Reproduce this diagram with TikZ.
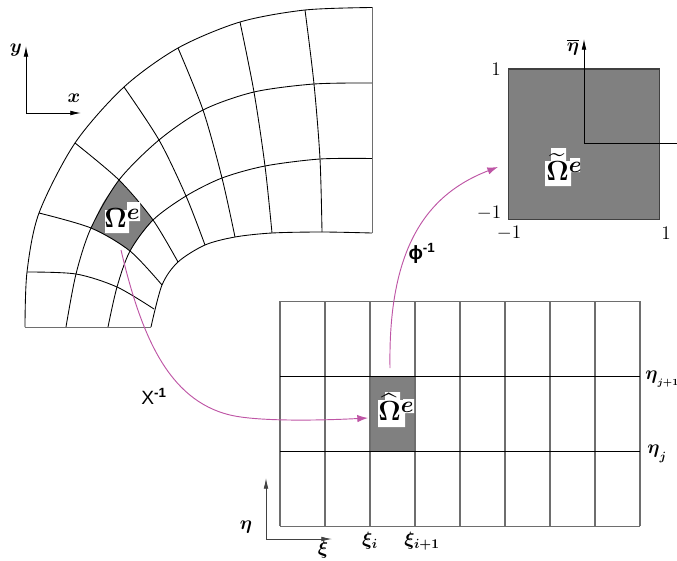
\documentclass[tikz,border=0pt]{standalone}
\usepackage{amsmath,amssymb,bm}
\usepackage{fontspec}
\setsansfont{Liberation Sans}
\usetikzlibrary{arrows.meta}
\definecolor{pinkline}{RGB}{190,85,165}
\definecolor{cellgray}{RGB}{128,128,128}
\definecolor{gridgray}{RGB}{110,110,110}
\tikzset{
 x=0.75pt,y=-0.75pt,
 mesh/.style={black,line width=0.65pt,smooth,tension=0.5},
 gridv/.style={gridgray,line width=0.95pt},
 gridh/.style={black,line width=0.6pt},
 edgeg/.style={gridgray,line width=0.75pt},
 axis/.style={black,line width=0.6pt,-{Latex[length=8pt,width=3.5pt]}},
 map/.style={pinkline,line width=0.7pt,-{Latex[length=8pt,width=5.5pt]}},
 elem/.style={inner sep=0pt,font=\huge},
 lab/.style={inner sep=0pt,font=\Large},
 sym/.style={inner sep=0pt,font=\Large},
 sfl/.style={inner sep=0pt,font=\sffamily\Large},
}
\newcommand{\elemE}{\raisebox{6pt}{\LARGE$\bm{e}$}}
\begin{document}
\begin{tikzpicture}
\useasboundingbox (0,0) rectangle (677,560);
% physical element
\fill[cellgray] plot[smooth,tension=0.5] coordinates {(119,180)(136,199)(153,220)}
  -- plot[smooth,tension=0.5] coordinates {(153,220)(140,236)(130,251)}
  -- plot[smooth,tension=0.5] coordinates {(130,251)(110,238)(91,228)}
  -- plot[smooth,tension=0.5] coordinates {(91,228)(103,203)(119,180)} -- cycle;
% boundaries and mesh lines
\draw[mesh] plot coordinates {(25,327)(27,272)(39,213)(75,143)(124,87)(178,48)(240,22)(305,10)(372,7.5)};
\draw[mesh] plot coordinates {(151,327)(162,285)(178,262)(205,245)(235,237)(272,233)(322,232)(372,233)};
\draw[mesh] plot coordinates {(66,327)(76,274)(91,228)(119,180)(159,140)(203,110)(254,92)(314,84)(372,83)};
\draw[mesh] plot coordinates {(108,327)(117,287)(130,251)(153,220)(186,196)(222,178)(265,166)(320,159)(372,158.5)};
\draw[mesh] plot coordinates {(27,272)(76,274)(117,287)(154,309)};
\draw[mesh] plot coordinates {(39,213)(91,228)(130,251)(162,285)};
\draw[mesh] plot coordinates {(75,143)(119,180)(153,220)(178,262)};
\draw[mesh] plot coordinates {(124,87)(159,140)(186,196)(205,245)};
\draw[mesh] plot coordinates {(178,48)(203,110)(222,178)(235,237)};
\draw[mesh] plot coordinates {(240,22)(254,92)(265,166)(272,233)};
\draw[mesh] plot coordinates {(305,10)(314,84)(320,159)(322,232)};
\draw[edgeg] (372,7.5) -- (372,233);
\draw[edgeg] (25,327) -- (151,327);
% xy axes
\coordinate (o1) at (26,113);
\coordinate (x1) at (81,113);
\coordinate (y1) at (26,46);
\draw[axis] (o1) -- (x1);
\draw[axis] (o1) -- (y1);
\node[sym] (ylab) at (16,50) {$\bm{y}$};
\node[sym] (xlab) at (74,98) {$\bm{x}$};
% computational grid
\fill[cellgray] (370,376) rectangle (415,451);
\foreach \gx in {280,325,370,415,460,505,550,595,640}
  \draw[gridv] (\gx,301) -- (\gx,526);
\draw[edgeg] (280,301) -- (640,301);
\foreach \gy in {376,451}
  \draw[gridh] (280,\gy) -- (640,\gy);
\draw[edgeg] (280,526) -- (640,526);
% xi eta axes
\coordinate (o2) at (266,539);
\coordinate (x2) at (332,539);
\coordinate (y2) at (266,478);
\draw[axis,gridgray!60!black] (o2) -- (x2);
\draw[axis,gridgray!60!black] (o2) -- (y2);
\node[sym] (etalab) at (246,527) {$\bm{\eta}$};
\node[sym] (xilab) at (323,550) {$\bm{\xi}$};
\node[sym] (xii) at (370,541) {$\bm{\xi}_{\bm{i}}$};
\node[sym] (xii1) at (422,541) {$\bm{\xi}_{\bm{i+1}}$};
\node[inner sep=0pt,anchor=west] (etaj1) at (645,379) {{\Large$\bm{\eta}$}\raisebox{-5pt}{\scriptsize$\bm{j{+}1}$}};
\node[inner sep=0pt,anchor=west] (etaj) at (647,454) {{\Large$\bm{\eta}$}\raisebox{-5pt}{\small$\bm{j}$}};
% reference square
\node[draw=black!75,fill=cellgray,line width=0.8pt,minimum width=151*0.75pt,minimum height=150*0.75pt,inner sep=0pt,anchor=north west] (sq) at (508,68.5) {};
\coordinate (o3) at (584,143);
\coordinate (y3) at (584,39);
\coordinate (x3) at (677,143);
\draw[black,line width=0.6pt] (o3) -- (x3);
\draw[axis] (o3) -- (y3);
\node[sym] (etabar) at (573,47) {$\overline{\bm{\eta}}$};
\node[lab] (t1) at (496,69) {1};
\node[lab] (tm1) at (489,213) {$-1$};
\node[lab] (bm1) at (509,233) {$-1$};
\node[lab] (b1) at (666,233) {1};
% element labels on stepped white patches
\fill[white] (105,210) rectangle (129,233) (127,202) rectangle (140,221);
\fill[white] (378,400) rectangle (405,427) (385,392) rectangle (400,401) (403,399) rectangle (414,413);
\fill[white] (545,161) rectangle (571,186) (551,148) rectangle (566,162) (570,158) rectangle (580,172);
\node[elem] (om1) at (122,218.5) {$\bm{\Omega}$\elemE};
\node[elem] (om2) at (396,407) {$\widehat{\bm{\Omega}}$\elemE};
\node[elem] (om3) at (564,167) {$\widetilde{\bm{\Omega}}$\elemE};
% mapping arrows
\coordinate (m1s) at (121,250);
\coordinate (m1e) at (368,418);
\coordinate (m2s) at (390,368);
\coordinate (m2e) at (498,167);
\draw[map] (m1s) .. controls (141,335) and (168,400) .. (230,415) .. controls (255,421) and (310,421) .. (m1e);
\draw[map] (m2s) .. controls (388,250) and (425,195) .. (m2e);
\node[sfl] (xinv) at (154,396) {X\textsuperscript{\bfseries -1}};
\node[sfl] (phinv) at (422,253) {\bfseries ϕ\textsuperscript{-1}};
\end{tikzpicture}
\end{document}
